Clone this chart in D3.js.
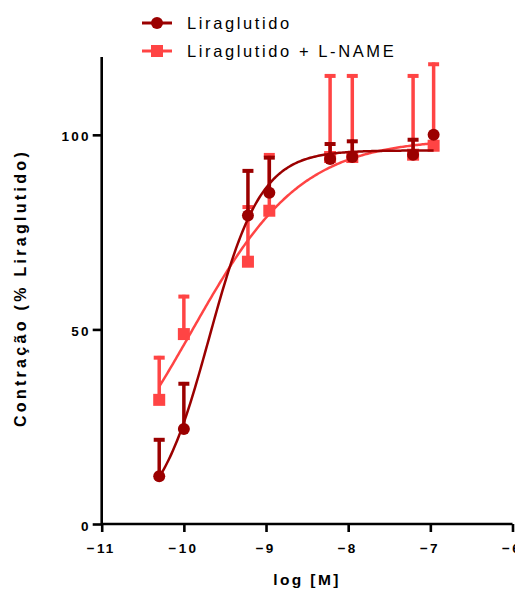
<!DOCTYPE html>
<html>
<head>
<meta charset="utf-8">
<script src="https://cdn.jsdelivr.net/npm/d3@7"></script>
<style>
  body { margin: 0; background: #fff; }
  svg { font-family: "Liberation Sans", Arial, sans-serif; }
</style>
</head>
<body>
<svg id="chart" width="515" height="590"></svg>
<script>
// ---- data ----
const seriesNames = ["Liraglutido", "Liraglutido + L-NAME"];
const logConc = [-10.3, -10.0, -9.22, -8.96, -8.22, -7.95, -7.21, -6.96];
const liraMean = [12.3, 24.4, 79.3, 85.1, 93.8, 94.3, 94.9, 100.0];
const liraErrTop = [22.1, 36.5, 91.2, 94.6, 98.1, 98.8, 99.2, 100.0];
const lnameMean = [31.9, 48.8, 67.4, 80.5, 94.3, 94.3, 94.9, 97.2];
const lnameErrTop = [43.2, 58.9, 81.9, 95.3, 115.6, 115.6, 115.6, 118.6];
// fitted 4-parameter logistic curves: [bottom, top, logEC50, hill]
const liraFit = [0, 96, -9.69, 1.38];
const lnameFit = [0, 99, -9.906, 0.65];
const xTicks = [-11, -10, -9, -8, -7, -6];
const yTicks = [0, 50, 100];

const colors = ["#9b0000", "#ff4444"];

const svg = d3.select("#chart");
const x = d3.scaleLinear().domain([-11, -6]).range([101.7, 512.5]);
const y = d3.scaleLinear().domain([0, 120]).range([524, 57]);

// axes
const xAxis = d3.axisBottom(x).tickValues(xTicks).tickSize(8).tickPadding(11).tickFormat(d3.format("d"));
const gx = svg.append("g").attr("transform", "translate(0,524)").call(xAxis);
const yAxis = d3.axisLeft(y).tickValues(yTicks).tickSize(9).tickPadding(2).tickFormat(d3.format("d"));
const gy = svg.append("g").attr("transform", "translate(101.7,0)").call(yAxis);
[gx, gy].forEach(g => {
  g.select(".domain").attr("stroke", "#000").attr("stroke-width", 2.6);
  g.selectAll(".tick line").attr("stroke", "#000").attr("stroke-width", 2.6);
  g.selectAll(".tick text").attr("fill", "#000").style("font-size", "13.5px")
    .style("font-weight", "bold").style("letter-spacing", "2.2px")
    .style("font-family", "'Liberation Sans', Arial, sans-serif");
});
gx.selectAll(".tick text").attr("dx", "-1px");
gy.selectAll(".tick text").attr("dy", "0.45em");
gx.select(".domain").attr("d", `M${x(-11)},0H${x(-6)}`);
gy.select(".domain").attr("d", `M0,${y(0)}V${y(120)}`);

// axis titles
svg.append("text").attr("x", 307).attr("y", 585).attr("text-anchor", "middle")
  .style("font-size", "15.5px").style("font-weight", "bold").style("letter-spacing", "2.4px")
  .text("log [M]");
svg.append("text").attr("transform", "translate(26,288) rotate(-90)").attr("text-anchor", "middle")
  .style("font-size", "16px").style("font-weight", "bold").style("letter-spacing", "3.3px")
  .text("Contração (% Liraglutido)");

// curves
function logistic(p) {
  return xv => p[0] + (p[1] - p[0]) / (1 + Math.pow(10, (p[2] - xv) * p[3]));
}
const xs = d3.range(0, 201).map(i => logConc[0] + (logConc[logConc.length - 1] - logConc[0]) * i / 200);
const line = d3.line().x(d => x(d[0])).y(d => y(d[1])).curve(d3.curveLinear);

function drawSeries(mean, errTop, fit, color, shape) {
  const g = svg.append("g");
  const f = logistic(fit);
  g.append("path").datum(xs.map(v => [v, f(v)])).attr("d", line)
    .attr("fill", "none").attr("stroke", color).attr("stroke-width", 2.5);
  const pts = logConc.map((c, i) => ({ c, m: mean[i], e: errTop[i] }));
  g.selectAll("line.stem").data(pts).enter().append("line")
    .attr("x1", d => x(d.c)).attr("x2", d => x(d.c))
    .attr("y1", d => y(d.m)).attr("y2", d => y(d.e))
    .attr("stroke", color).attr("stroke-width", 3.5);
  g.selectAll("line.cap").data(pts.filter(d => d.e > d.m)).enter().append("line")
    .attr("x1", d => x(d.c) - 5.5).attr("x2", d => x(d.c) + 5.5)
    .attr("y1", d => y(d.e) + 1.8).attr("y2", d => y(d.e) + 1.8)
    .attr("stroke", color).attr("stroke-width", 4);
  if (shape === "circle") {
    g.selectAll("circle").data(pts).enter().append("circle")
      .attr("cx", d => x(d.c)).attr("cy", d => y(d.m)).attr("r", 6).attr("fill", color);
  } else {
    g.selectAll("rect").data(pts).enter().append("rect")
      .attr("x", d => x(d.c) - 6).attr("y", d => y(d.m) - 6)
      .attr("width", 12).attr("height", 12).attr("fill", color);
  }
}
drawSeries(lnameMean, lnameErrTop, lnameFit, colors[1], "square");
drawSeries(liraMean, liraErrTop, liraFit, colors[0], "circle");

// legend
const legendY = [23, 51];
seriesNames.forEach((name, i) => {
  const g = svg.append("g");
  g.append("line").attr("x1", 142).attr("x2", 172).attr("y1", legendY[i]).attr("y2", legendY[i])
    .attr("stroke", colors[i]).attr("stroke-width", 3);
  if (i === 0) g.append("circle").attr("cx", 157).attr("cy", legendY[i]).attr("r", 6).attr("fill", colors[i]);
  else g.append("rect").attr("x", 151).attr("y", legendY[i] - 6).attr("width", 12).attr("height", 12).attr("fill", colors[i]);
  g.append("text").attr("x", 187).attr("y", legendY[i] + 6).style("font-size", "16.5px")
    .style("letter-spacing", "2.6px").attr("fill", "#000").text(name);
});
</script>
</body>
</html>
